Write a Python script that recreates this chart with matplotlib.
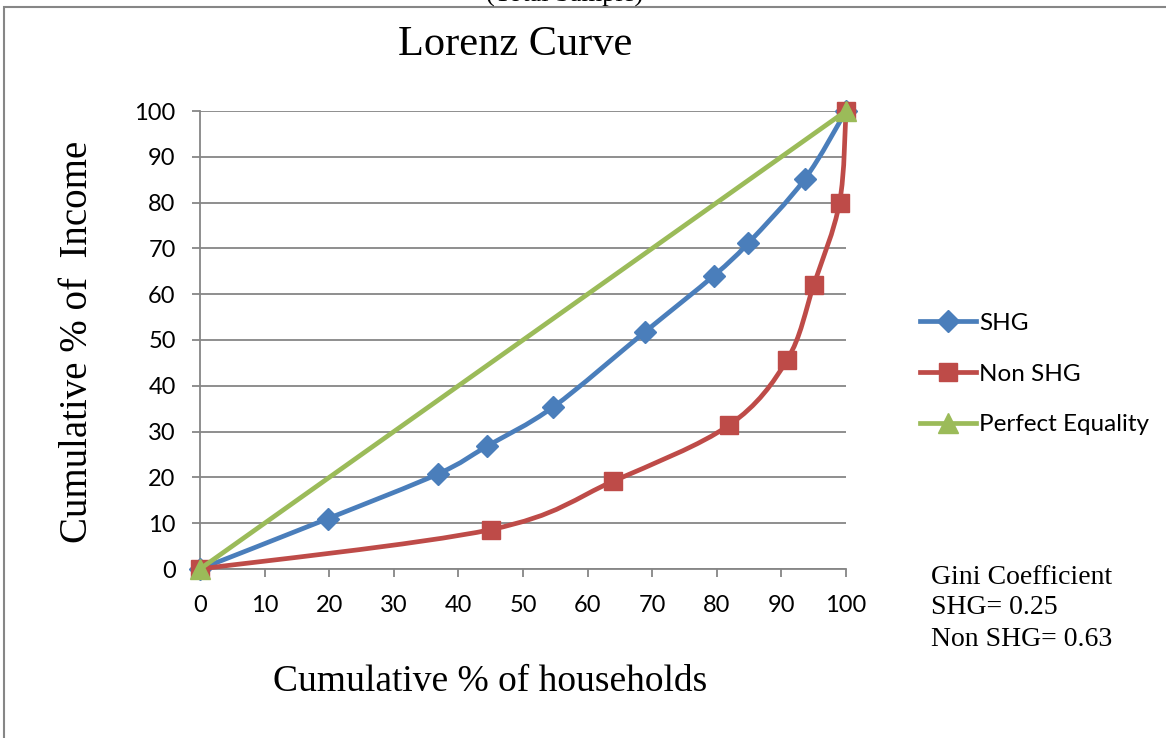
import numpy as np
import matplotlib
matplotlib.use("Agg")
import matplotlib.pyplot as plt
from matplotlib.path import Path
from matplotlib.patches import PathPatch, Rectangle
from matplotlib.lines import Line2D

# ---- data ----
shg_x = [0, 19.8, 36.9, 44.4, 54.7, 68.9, 79.5, 84.9, 93.6, 100]
shg_y = [0, 11.0, 20.8, 26.8, 35.4, 51.8, 64.0, 71.2, 85.1, 100]
non_x = [0, 45.0, 64.0, 81.9, 90.9, 95.0, 99.0, 100]
non_y = [0, 8.6, 19.2, 31.4, 45.7, 62.0, 80.0, 100]
eq_x = [0, 100]
eq_y = [0, 100]
x_ticks = list(range(0, 101, 10))
y_ticks = list(range(0, 101, 10))

BLUE = "#4A7EBB"
RED = "#BE4B48"
GREEN = "#9BBB59"
GRID = "#868686"

SERIF = "Liberation Serif"
SANS = "Lato"


def smooth_path(xs, ys, tension=1/6):
    pts = np.column_stack([xs, ys]).astype(float)
    n = len(pts)
    verts = [pts[0]]
    codes = [Path.MOVETO]
    for i in range(n - 1):
        p0 = pts[i - 1] if i > 0 else pts[i]
        p1 = pts[i]
        p2 = pts[i + 1]
        p3 = pts[i + 2] if i + 2 < n else pts[i + 1]
        c1 = p1 + (p2 - p0) * tension
        c2 = p2 - (p3 - p1) * tension
        verts += [c1, c2, p2]
        codes += [Path.CURVE4] * 3
    return Path(verts, codes)


fig = plt.figure(figsize=(11.66, 7.38), dpi=100)
ax = fig.add_axes([200/1166, 1 - 569/738, 646/1166, 458/738])

ax.set_xlim(0, 100)
ax.set_ylim(0, 100)
ax.set_xticks(x_ticks)
ax.set_yticks(y_ticks)
ax.grid(axis="y", color=GRID, linewidth=1.3)
ax.set_axisbelow(True)
for s in ["top", "right"]:
    ax.spines[s].set_visible(False)
for s in ["left", "bottom"]:
    ax.spines[s].set_color(GRID)
    ax.spines[s].set_linewidth(1.3)
ax.tick_params(axis="x", direction="out", length=5.5, width=1.3, color=GRID,
               pad=13, labelsize=17)
ax.tick_params(axis="y", direction="out", length=5.5, width=1.3, color=GRID,
               pad=12, labelsize=17)
for lab in ax.get_xticklabels() + ax.get_yticklabels():
    lab.set_fontfamily(SANS)
    lab.set_color("black")

lw = 3.4
# SHG
ax.add_patch(PathPatch(smooth_path(shg_x, shg_y), facecolor="none", edgecolor=BLUE,
                       linewidth=lw, capstyle="round", joinstyle="round", zorder=3, clip_on=False))
ax.plot(shg_x, shg_y, linestyle="none", marker="D", markersize=11, color=BLUE,
        zorder=4, clip_on=False)
# Non SHG
ax.add_patch(PathPatch(smooth_path(non_x, non_y), facecolor="none", edgecolor=RED,
                       linewidth=lw, capstyle="round", joinstyle="round", zorder=5, clip_on=False))
ax.plot(non_x, non_y, linestyle="none", marker="s", markersize=13, color=RED,
        zorder=6, clip_on=False)
# Perfect equality
ax.plot(eq_x, eq_y, color=GREEN, linewidth=lw, marker="^", markersize=15,
        zorder=7, clip_on=False, solid_capstyle="round")

# legend
handles = [
    Line2D([], [], color=BLUE, lw=lw, marker="D", markersize=11),
    Line2D([], [], color=RED, lw=lw, marker="s", markersize=13),
    Line2D([], [], color=GREEN, lw=lw, marker="^", markersize=14),
]
fig.legend(handles, ["SHG", "Non SHG", "Perfect Equality"], loc="center left",
           bbox_to_anchor=(910/1166, 1 - 374/738), frameon=False,
           prop={"family": SANS, "size": 17.5}, handlelength=2.3, handletextpad=0.15,
           labelspacing=1.22, borderaxespad=0)

# titles / labels
fig.text(515/1166, 1 - 45/738, "Lorenz Curve", ha="center", va="center",
         fontsize=30.5, family=SERIF)
fig.text(78/1166, 1 - 342/738, "Cumulative % of  Income", ha="center", va="center",
         rotation=90, fontsize=28, family=SERIF)
fig.text(490/1166, 1 - 682/738, "Cumulative % of households", ha="center", va="center",
         fontsize=27, family=SERIF)
fig.text(565/1166, 1 - 2/738, "(Total Sample)", ha="center", va="baseline",
         fontsize=19, family=SERIF)

gini = ["Gini Coefficient", "SHG= 0.25", "Non SHG= 0.63"]
for i, t in enumerate(gini):
    fig.text(931/1166, 1 - (577 + 31 * i)/738, t, ha="left", va="center",
             fontsize=20, family=SERIF)

# outer frame
fig.add_artist(Rectangle((4/1166, -0.1), 1.2, 1 - 7/738 + 0.1, transform=fig.transFigure,
                         facecolor="none", edgecolor=GRID, linewidth=1.5))

fig.savefig("out.png", dpi=100)
